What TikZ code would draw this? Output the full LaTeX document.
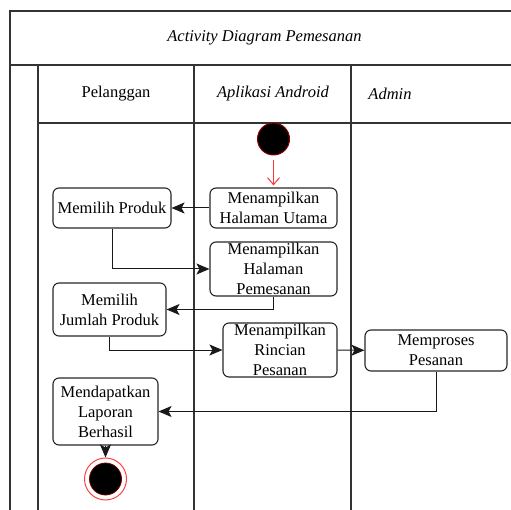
\documentclass[tikz,border=0pt]{standalone}
\usepackage{fontspec}
\setmainfont{LiberationSerif}[Extension=.ttf, UprightFont=*-Regular, ItalicFont=*-Italic, BoldFont=*-Bold]
\usetikzlibrary{arrows.meta}
\tikzset{
    lane/.style={draw=black!80, line width=1.2pt},
    act/.style={rectangle, draw=black!85, line width=1.1pt, rounded corners=6pt, align=center, inner sep=0pt},
    startdot/.style={circle, fill=black, draw=red!55!black, line width=1pt, minimum size=32pt, inner sep=0},
    enddot/.style={circle, draw=red!75, line width=1pt, minimum size=42pt, inner sep=0},
    flow/.style={-{Stealth[length=13pt,width=11pt,inset=3pt]}, line width=1pt, black!90}
}

\begin{document}
\begin{tikzpicture}[x=1pt, y=-1pt, font=\rmfamily\fontsize{16.5}{20}\selectfont]
    \useasboundingbox (0,0) rectangle (511,510);
    % frame and lanes
    \draw[lane] (511,11) -- (10,11) -- (10,510);
    \draw[lane] (10,65) -- (511,65);
    \draw[lane] (38,65) -- (38,510);
    \draw[lane] (38,123) -- (511,123);
    \draw[lane] (194,65) -- (194,510);
    \draw[lane] (351,65) -- (351,510);
    \node (judul) at (264.5,38) {\itshape Activity Diagram Pemesanan};
    \node (pelanggan) at (116,94) {Pelanggan};
    \node (aplikasi) at (273,94) {\itshape Aplikasi Android};
    \node (admin) at (390,94) {\itshape Admin};

    % activities
    \node[startdot] (mulai) at (273.5,139) {};
    \node[act, minimum width=127pt, minimum height=40pt] (utama) at (273.5,208) {Menampilkan\\Halaman Utama};
    \node[act, minimum width=118pt, minimum height=40pt] (produk) at (112,208) {Memilih Produk};
    \node[act, minimum width=127pt, minimum height=54pt] (pesan) at (273.5,269) {Menampilkan\\Halaman\\Pemesanan};
    \node[act, minimum width=113pt, minimum height=53pt] (jumlah) at (109.5,309.5) {Memilih\\Jumlah Produk};
    \node[act, minimum width=114pt, minimum height=54pt] (rincian) at (280,350) {Menampilkan\\Rincian\\Pesanan};
    \node[act, minimum width=142pt, minimum height=41pt] (proses) at (436,350.5) {Memproses\\Pesanan};
    \node[act, minimum width=105pt, minimum height=67pt] (laporan) at (105.5,411.5) {Mendapatkan\\Laporan\\Berhasil};
    \node[enddot] (selesai) at (105.5,479) {};
    \fill[black] (selesai) circle (16pt);
    \draw[red!45!black, line width=0.8pt] (selesai) circle (16pt);

    % flows
    \draw[-{Straight Barb[length=7pt,width=12pt]}, line width=1pt, red!80, shorten <=5pt, shorten >=2pt] (mulai) -- (utama);
    \draw[flow] (utama) -- (produk);
    \draw[flow] (produk) |- (pesan);
    \draw[flow] (pesan) |- (jumlah);
    \draw[flow] (jumlah) |- (rincian);
    \draw[flow] (rincian) -- (proses);
    \draw[flow] (proses) |- (laporan);
    \draw[flow] (laporan) -- (selesai);
\end{tikzpicture}
\end{document}
